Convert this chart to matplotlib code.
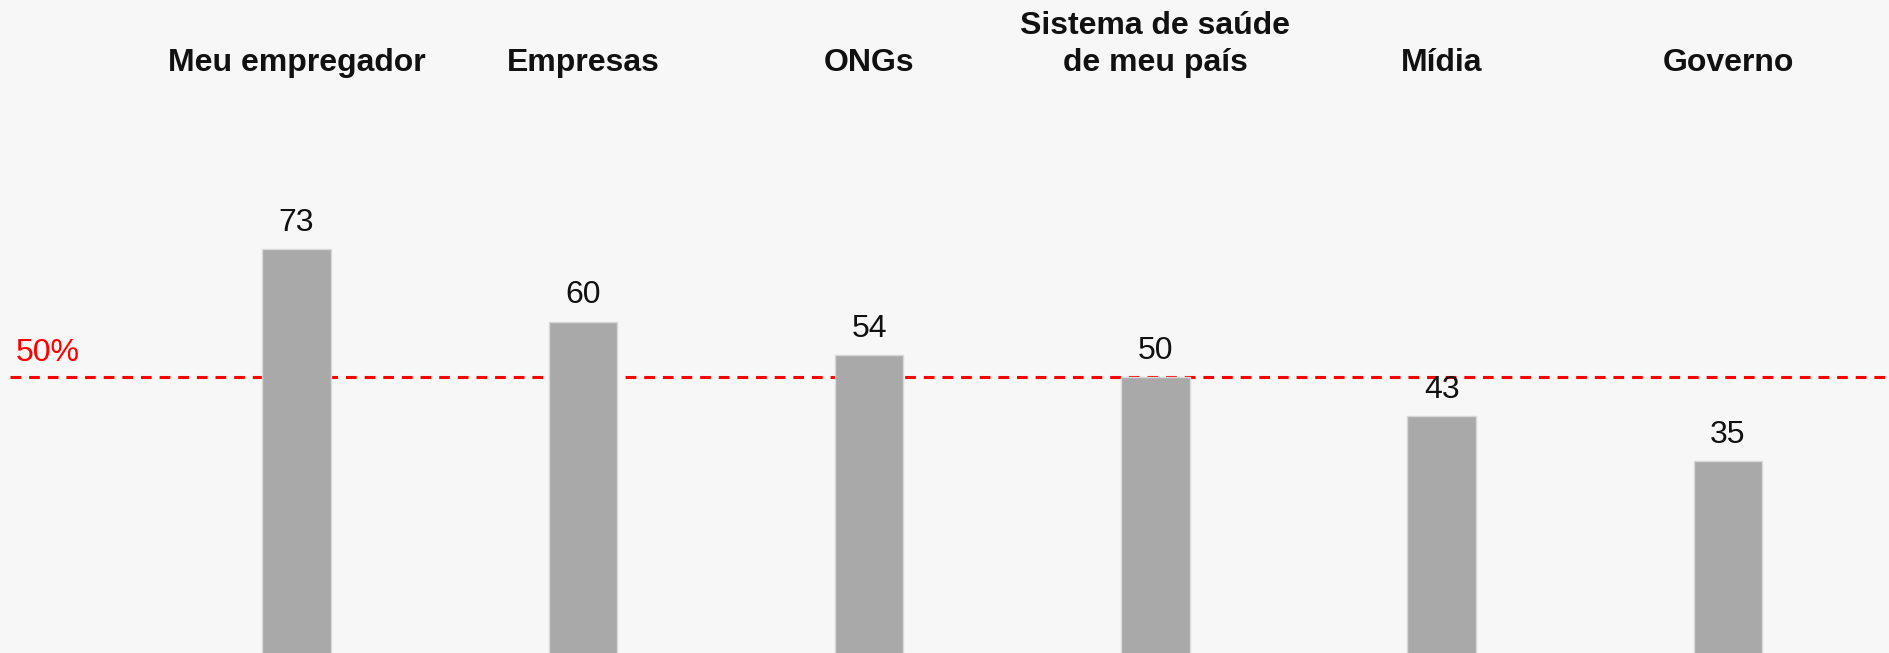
import matplotlib
matplotlib.use("Agg")
import matplotlib.pyplot as plt
import matplotlib.transforms as mtransforms

categories = ["Meu empregador", "Empresas", "ONGs", "Sistema de saúde\nde meu país", "Mídia", "Governo"]
values = [73, 60, 54, 50, 43, 35]
threshold = 50
threshold_label = "50%"

plt.rcParams['font.family'] = ['Liberation Sans', 'DejaVu Sans']

DPI = 100
fig = plt.figure(figsize=(18.9, 6.53), dpi=DPI, facecolor='#f7f7f7')
ax = fig.add_axes([0, 0, 1, 1])
ax.set_facecolor('#f7f7f7')

x = list(range(len(categories)))
ax.bar(x, values, width=0.24, color='#a9a9a9', edgecolor='#d8d8d8', linewidth=1.0, zorder=3)

ax.plot([-1.0, 6.0], [threshold, threshold], color='#ff0000', linewidth=2.2,
        dashes=(3.5, 2.6), zorder=2)
ax.annotate(threshold_label, (-1.0, threshold), xytext=(4.0, 11.5), textcoords='offset points',
            ha='left', va='baseline', color='#ff0000', fontsize=23)

for xi, v in zip(x, values):
    ax.annotate(str(v), (xi, v), xytext=(0, 13.3), textcoords='offset points',
                ha='center', va='baseline', color='#111111', fontsize=23)

ax.set_xlim(-1.036, 5.566)
ax.set_ylim(0.54, 117.75)

trans = mtransforms.blended_transform_factory(ax.transData, ax.transAxes)
H = 653.0
base_px = 71.0
line_px = 37.0
for xi, lab in zip(x, categories):
    lines = lab.split("\n")
    for j, line in enumerate(reversed(lines)):
        y = 1 - (base_px - j * line_px) / H
        ax.text(xi, y, line, transform=trans, ha='center', va='baseline',
                fontsize=23, fontweight='bold', color='#111111')

ax.axis('off')
fig.savefig("out.png", dpi=DPI, facecolor=fig.get_facecolor())
